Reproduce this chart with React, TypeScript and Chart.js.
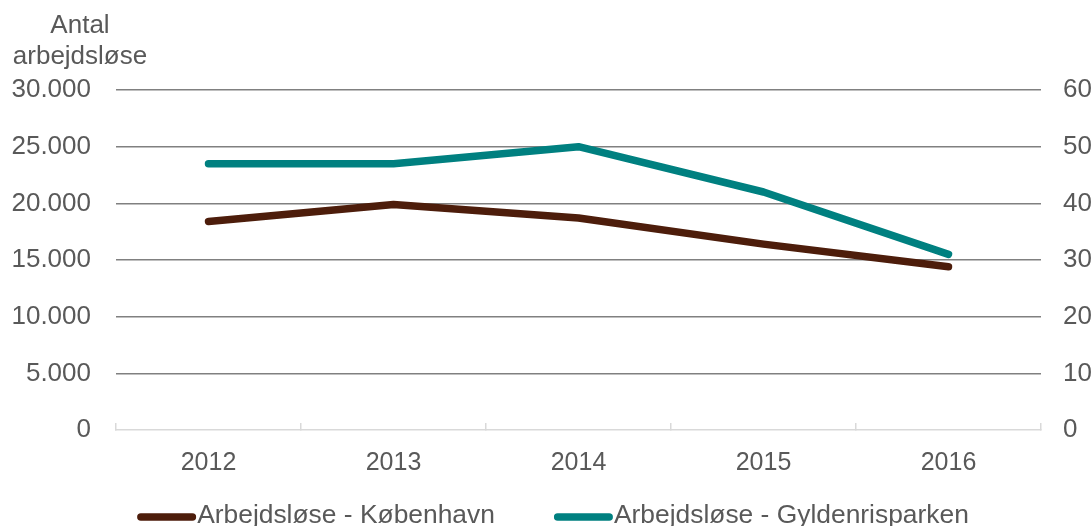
import React, { useEffect, useRef } from 'react';
import { Chart, registerables } from 'chart.js';

Chart.register(...registerables);

// ---- data ----
const years = ['2012', '2013', '2014', '2015', '2016'];
const kobenhavn = [18400, 19900, 18700, 16400, 14400];
const gyldenrisparken = [47, 47, 50, 42, 31];
const seriesNames = ['Arbejdsløse - København', 'Arbejdsløse - Gyldenrisparken'];
const leftAxisTitle = ['Antal', 'arbejdsløse'];
const leftRange = [0, 30000, 5000];
const rightRange = [0, 60, 10];

const BROWN = '#4d1d0b';
const TEAL = '#008080';
const TEXT = '#595959';
const GRID = '#808080';
const AXIS = '#d9d9d9';
const FAMILY = "'Liberation Sans', Arial, sans-serif";

const fmt = (v: number) => String(Math.round(v)).replace(/\B(?=(\d{3})+(?!\d))/g, '.');

const axisTitlePlugin = {
  id: 'axisTitle',
  afterDraw(chart: any) {
    const { ctx } = chart;
    ctx.save();
    ctx.font = `26px ${FAMILY}`;
    ctx.fillStyle = TEXT;
    ctx.textAlign = 'center';
    ctx.textBaseline = 'alphabetic';
    ctx.fillText(leftAxisTitle[0], 80, 33);
    ctx.fillText(leftAxisTitle[1], 80, 64);
    ctx.restore();
  },
};

// legend drawn from the datasets (label + colour), line marker touching its text
const legendPlugin = {
  id: 'lineLegend',
  afterDraw(chart: any) {
    const { ctx } = chart;
    const sets = chart.data.datasets;
    const fontSize = 26.4;
    const lineLen = 59;
    const lineW = 7.5;
    const textGap = 1;
    const itemGap = 59;
    const centerX = 553;
    const y = 516;
    ctx.save();
    ctx.font = `${fontSize}px ${FAMILY}`;
    const widths = sets.map((d: any) => ctx.measureText(d.label).width);
    const total =
      widths.reduce((a: number, w: number) => a + lineLen + textGap + w, 0) + itemGap * (sets.length - 1);
    let x = centerX - total / 2;
    sets.forEach((d: any, i: number) => {
      ctx.strokeStyle = d.borderColor;
      ctx.lineWidth = lineW;
      ctx.lineCap = 'round';
      ctx.beginPath();
      ctx.moveTo(x + lineW / 2, y + 1);
      ctx.lineTo(x + lineLen - lineW / 2, y + 1);
      ctx.stroke();
      ctx.fillStyle = TEXT;
      ctx.textAlign = 'left';
      ctx.textBaseline = 'middle';
      ctx.fillText(d.label, x + lineLen + textGap, y);
      x += lineLen + textGap + widths[i] + itemGap;
    });
    ctx.restore();
  },
};

export default function App() {
  const ref = useRef<HTMLCanvasElement | null>(null);

  useEffect(() => {
    if (!ref.current) return;
    const chart = new Chart(ref.current, {
      type: 'line',
      data: {
        labels: years,
        datasets: [
          {
            label: seriesNames[0],
            data: kobenhavn,
            yAxisID: 'y',
            borderColor: BROWN,
            backgroundColor: BROWN,
            borderWidth: 7.5,
            pointRadius: 0,
            pointHoverRadius: 0,
            borderCapStyle: 'round',
            borderJoinStyle: 'round',
            tension: 0,
          },
          {
            label: seriesNames[1],
            data: gyldenrisparken,
            yAxisID: 'y1',
            borderColor: TEAL,
            backgroundColor: TEAL,
            borderWidth: 7.5,
            pointRadius: 0,
            pointHoverRadius: 0,
            borderCapStyle: 'round',
            borderJoinStyle: 'round',
            tension: 0,
          },
        ],
      },
      options: {
        responsive: false,
        animation: false,
        events: [],
        layout: { padding: { top: 90, left: 0, right: 0, bottom: 46 } },
        plugins: {
          tooltip: { enabled: false },
          title: { display: false },
          legend: { display: false },
        },
        scales: {
          x: {
            type: 'category',
            offset: true,
            grid: {
              display: true,
              offset: true,
              drawOnChartArea: false,
              drawTicks: true,
              tickLength: -7,
              color: AXIS,
              lineWidth: 1.5,
            },
            border: { display: true, color: AXIS, width: 1.5 },
            ticks: { padding: 25, color: TEXT, font: { size: 25, family: FAMILY }, maxRotation: 0 },
            afterFit: (s: any) => {
              s.height = 50;
            },
          },
          y: {
            position: 'left',
            min: leftRange[0],
            max: leftRange[1],
            ticks: {
              stepSize: leftRange[2],
              padding: 25,
              color: TEXT,
              font: { size: 26, family: FAMILY },
              callback: (v: any) => fmt(Number(v)),
            },
            grid: {
              drawTicks: false,
              color: (c: any) => (c.tick && c.tick.value === 0 ? 'rgba(0,0,0,0)' : GRID),
              lineWidth: 1.5,
            },
            border: { display: false },
            afterFit: (s: any) => {
              s.width = 116;
            },
          },
          y1: {
            position: 'right',
            min: rightRange[0],
            max: rightRange[1],
            ticks: {
              stepSize: rightRange[2],
              padding: 22,
              color: TEXT,
              font: { size: 26, family: FAMILY },
            },
            grid: { display: false, drawTicks: false },
            border: { display: false },
            afterFit: (s: any) => {
              s.width = 50;
            },
          },
        },
      },
      plugins: [axisTitlePlugin, legendPlugin],
    } as any);
    return () => chart.destroy();
  }, []);

  return (
    <div style={{ position: 'fixed', left: 0, top: 0, width: 1091, height: 526, background: '#fff', overflow: 'hidden' }}>
      <canvas ref={ref} width={1091} height={526} style={{ display: 'block' }} />
    </div>
  );
}
